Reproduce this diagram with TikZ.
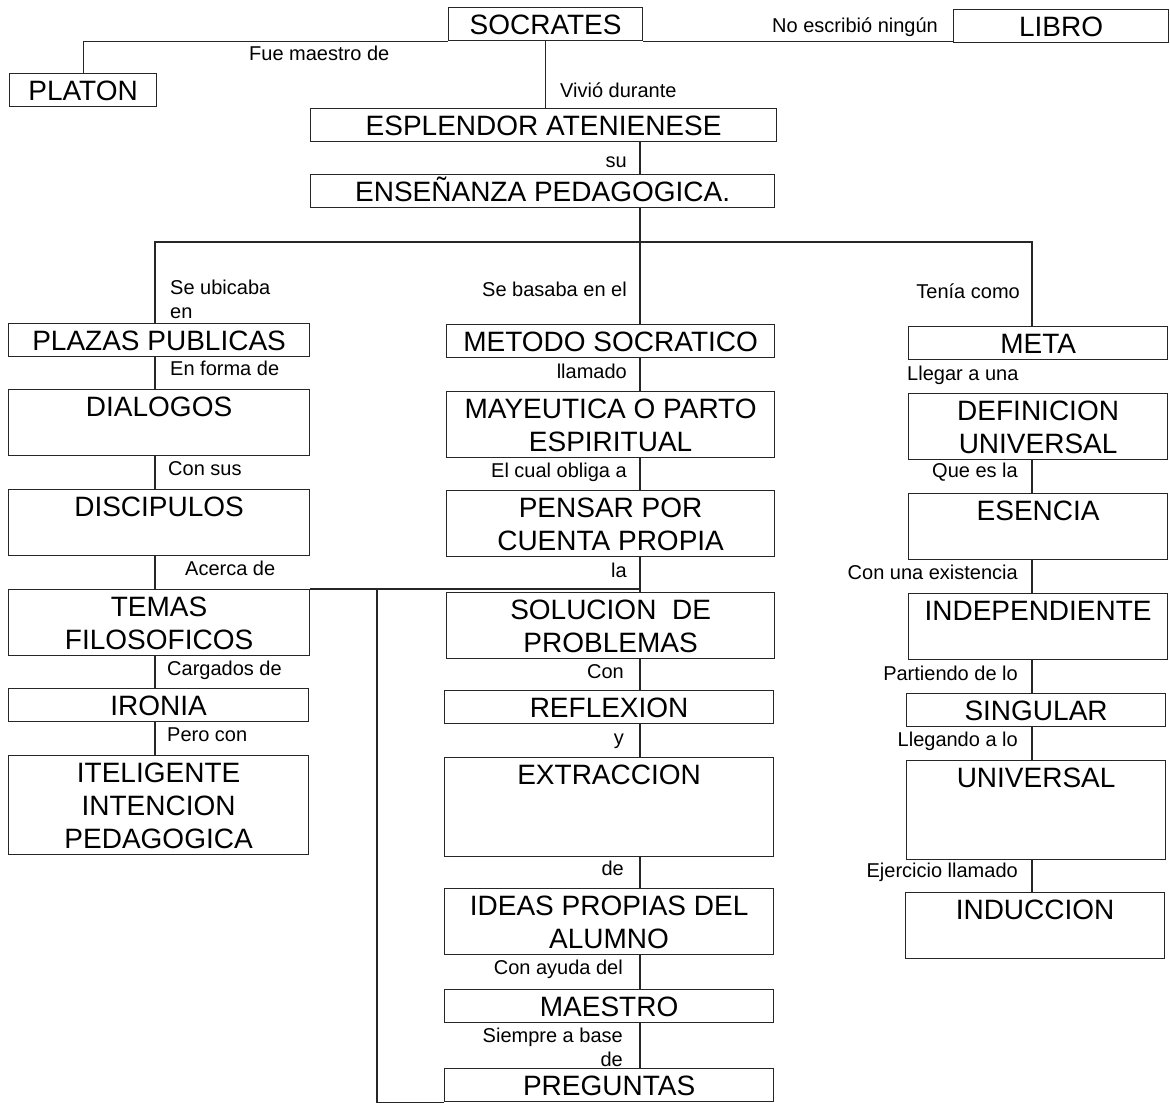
\documentclass[tikz,border=0pt]{standalone}
\usepackage{fontspec}
\setmainfont{Liberation Sans}
\newcommand\fuentecaja{\fontsize{28}{33}\selectfont}
\newcommand\fuenteetiq{\fontsize{20}{24}\selectfont}
\newcommand\puntal{\rule[-6pt]{0pt}{33pt}}
\newcommand\linea{\\\puntal}

\begin{document}
\begin{tikzpicture}[x=1pt,y=-1pt,
  caja/.style={draw=black!85, line width=1.2pt, font=\fuentecaja, align=center,
    anchor=north west, inner xsep=0pt, inner ysep=0pt},
  etiq/.style={font=\fuenteetiq, inner sep=0pt},
  liga/.style={draw=black!85, line width=1.2pt}]
\useasboundingbox (0,0) rectangle (1170,1103);

% cabecera
\node[caja, minimum width=194] (socrates) at (448,7) {\puntal SOCRATES};
\node[caja, minimum width=215] (libro) at (953,9) {\puntal LIBRO};
\node[caja, minimum width=147] (platon) at (9,73) {\puntal PLATON};
\node[caja, minimum width=466] (esplendor) at (310,108) {\puntal ESPLENDOR ATENIENESE};
\node[caja, minimum width=464] (ensenanza) at (310,174) {\puntal ENSEÑANZA PEDAGOGICA.};

% columna izquierda
\node[caja, minimum width=301] (plazas) at (8,323) {\puntal PLAZAS PUBLICAS};
\node[caja, minimum width=301] (dialogos) at (8,389) {\puntal DIALOGOS\linea};
\node[caja, minimum width=301] (discipulos) at (8,489) {\puntal DISCIPULOS\linea};
\node[caja, minimum width=301] (temas) at (8,589) {\puntal TEMAS\linea FILOSOFICOS};
\node[caja, minimum width=300] (ironia) at (8,688) {\puntal IRONIA};
\node[caja, minimum width=300] (inteligente) at (8,755) {\puntal ITELIGENTE\linea INTENCION\linea PEDAGOGICA};

% columna central
\node[caja, minimum width=328] (metodo) at (446,324) {\puntal METODO SOCRATICO};
\node[caja, minimum width=328] (mayeutica) at (446,391) {\puntal MAYEUTICA O PARTO\linea ESPIRITUAL};
\node[caja, minimum width=328] (pensar) at (446,490) {\puntal PENSAR POR\linea CUENTA PROPIA};
\node[caja, minimum width=328] (solucion) at (446,592) {\puntal SOLUCION\ \ DE\linea PROBLEMAS};
\node[caja, minimum width=329] (reflexion) at (444,690) {\puntal REFLEXION};
\node[caja, minimum width=329] (extraccion) at (444,757) {\puntal EXTRACCION\linea\linea};
\node[caja, minimum width=329] (ideas) at (444,888) {\puntal IDEAS PROPIAS DEL\linea ALUMNO};
\node[caja, minimum width=329] (maestro) at (444,989) {\puntal MAESTRO};
\node[caja, minimum width=329] (preguntas) at (444,1068) {\puntal PREGUNTAS};

% columna derecha
\node[caja, minimum width=259] (meta) at (908,326) {\puntal META};
\node[caja, minimum width=259] (definicion) at (908,393) {\puntal DEFINICION\linea UNIVERSAL};
\node[caja, minimum width=259] (esencia) at (908,493) {\puntal ESENCIA\linea};
\node[caja, minimum width=259] (independiente) at (908,593) {\puntal INDEPENDIENTE\linea};
\node[caja, minimum width=259] (singular) at (906,693) {\puntal SINGULAR};
\node[caja, minimum width=259] (universal) at (906,760) {\puntal UNIVERSAL\linea\linea};
\node[caja, minimum width=259] (induccion) at (905,892) {\puntal INDUCCION\linea};

% ejes de las ramas
\coordinate (ejeI) at (155,242);
\coordinate (ejeC) at (640,242);
\coordinate (ejeD) at (1032,242);
\coordinate (bajada) at (377,589);

% conectores
\draw[liga] (platon.north) |- (socrates.south west);
\draw[liga] (socrates.south east) -- (socrates.south east -| libro.west);
\draw[liga] (socrates.south) -- (esplendor.north -| socrates.south);
\draw[liga] (esplendor.south -| ejeC) -- (ensenanza.north -| ejeC);
\draw[liga] (ensenanza.south -| ejeC) -- (ejeC);
\draw[liga] (plazas.north -| ejeI) -- (ejeI) -- (ejeD) -- (meta.north -| ejeD);
\draw[liga] (ejeC) -- (metodo.north -| ejeC);
\foreach \a/\b in {plazas/dialogos, dialogos/discipulos, discipulos/temas,
    temas/ironia, ironia/inteligente}
  \draw[liga] (\a.south -| ejeI) -- (\b.north -| ejeI);
\foreach \a/\b in {metodo/mayeutica, mayeutica/pensar, pensar/solucion,
    solucion/reflexion, reflexion/extraccion, extraccion/ideas,
    ideas/maestro, maestro/preguntas}
  \draw[liga] (\a.south -| ejeC) -- (\b.north -| ejeC);
\foreach \a/\b in {definicion/esencia, esencia/independiente,
    independiente/singular, singular/universal, universal/induccion}
  \draw[liga] (\a.south -| ejeD) -- (\b.north -| ejeD);
\draw[liga] (temas.north east) -- (temas.north east -| ejeC);
\draw[liga] (bajada) |- (preguntas.south west);

% etiquetas
\node[etiq, anchor=base west] (eFue) at (249,60) {Fue maestro de};
\node[etiq, anchor=base west] (eNo) at (772,32) {No escribió ningún};
\node[etiq, anchor=base west] (eVivio) at (560,97) {Vivió durante};
\node[etiq, anchor=base east] (eSu) at (627,167) {su};
\node[etiq, anchor=north west, align=left] (eUbica) at (170,280) {Se ubicaba\\en};
\node[etiq, anchor=base east] (eBasa) at (627,296) {Se basaba en el};
\node[etiq, anchor=base east] (eTenia) at (1020,298) {Tenía como};
\node[etiq, anchor=base west] (eForma) at (170,375) {En forma de};
\node[etiq, anchor=base east] (eLlamado) at (627,378) {llamado};
\node[etiq, anchor=base west] (eLlegar) at (907,380) {Llegar a una};
\node[etiq, anchor=base west] (eSus) at (168,475) {Con sus};
\node[etiq, anchor=base east] (eObliga) at (627,477) {El cual obliga a};
\node[etiq, anchor=base east] (eQue) at (1018,477) {Que es la};
\node[etiq, anchor=base west] (eAcerca) at (185,575) {Acerca de};
\node[etiq, anchor=base east] (eLa) at (627,577) {la};
\node[etiq, anchor=base east] (eExiste) at (1018,579) {Con una existencia};
\node[etiq, anchor=base west] (eCarga) at (167,675) {Cargados de};
\node[etiq, anchor=base east] (eCon) at (624,678) {Con};
\node[etiq, anchor=base east] (eParte) at (1018,680) {Partiendo de lo};
\node[etiq, anchor=base west] (ePero) at (167,741) {Pero con};
\node[etiq, anchor=base east] (eY) at (624,744) {y};
\node[etiq, anchor=base east] (eLlega) at (1018,746) {Llegando a lo};
\node[etiq, anchor=base east] (eDe) at (624,875) {de};
\node[etiq, anchor=base east] (eEjer) at (1018,877) {Ejercicio llamado};
\node[etiq, anchor=base east] (eAyuda) at (623,974) {Con ayuda del};
\node[etiq, anchor=north east, align=right] (eBase) at (623,1028) {Siempre a base\\de};
\end{tikzpicture}
\end{document}
